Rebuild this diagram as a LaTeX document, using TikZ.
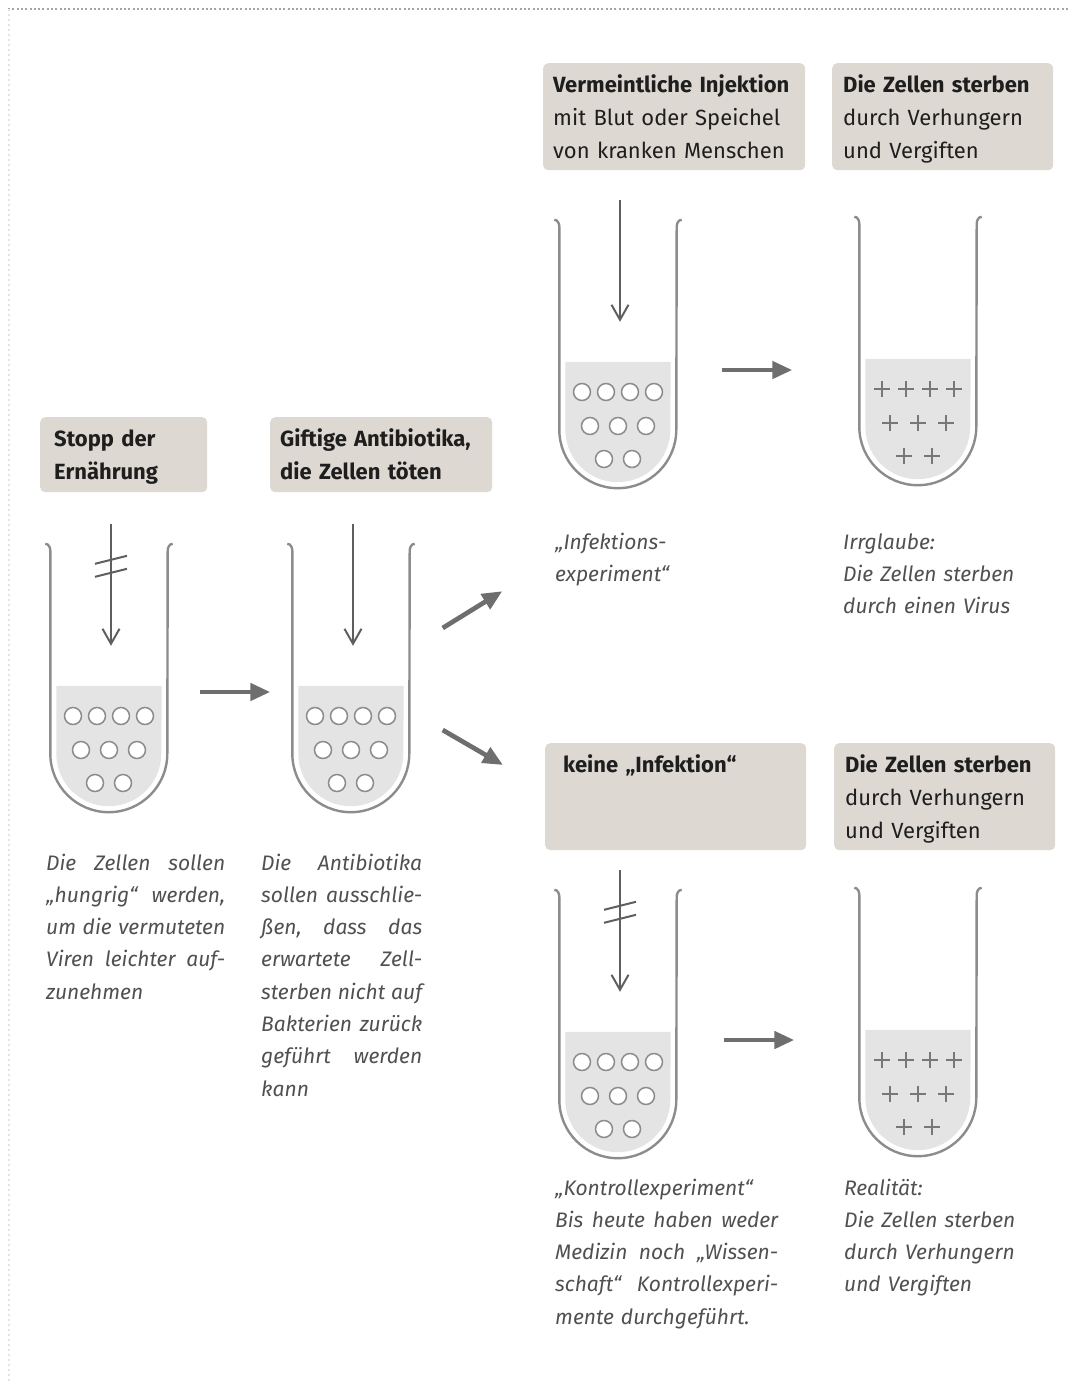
\documentclass[tikz,border=0pt]{standalone}
\usepackage{fontspec}
\setmainfont{Fira Sans}
\usetikzlibrary{arrows.meta,calc}
\definecolor{kasten}{RGB}{221,216,210}
\definecolor{glas}{RGB}{140,140,140}
\definecolor{fluessig}{RGB}{228,228,228}
\definecolor{pfeil}{RGB}{110,110,110}
\definecolor{dunkel}{RGB}{95,95,95}
\definecolor{schrift}{RGB}{30,30,30}
\definecolor{notiz}{RGB}{80,80,80}
\definecolor{rahmen}{RGB}{165,165,165}
%% Blocksatzzeile
\newlength{\spalte}
\newcommand{\jz}[1]{\makebox[\spalte][s]{#1}\\}

\begin{document}
\begin{tikzpicture}[x=1pt,y=1pt,
	kastenbox/.style={fill=kasten,rounded corners=5pt,anchor=north west,inner ysep=0pt,inner xsep=#1,
		align=left,text=schrift,font=\fontsize{22}{33}\selectfont,text height=29pt},
	kastenbox/.default=10pt,
	notiz/.style={anchor=base west,inner sep=0pt,align=left,text=notiz,
		font=\fontsize{21}{32.3}\selectfont\itshape},
	roehre/.style={minimum width=117pt,minimum height=268pt,inner sep=0pt},
	zelle/.style={glas,fill=white,line width=1.5pt},
	tot/.style={glas!85!black,line width=2.5pt},
	zufuhr/.style={dunkel,line width=2pt,-{Straight Barb[length=15pt,width=17pt]}},
	weiter/.style={pfeil,line width=4.7pt,-{Triangle[length=20pt,width=17pt]}}]
	\useasboundingbox (0,0) rectangle (1071,-1382);
	%% Rahmen
	\draw[rahmen,line width=2pt,dash pattern=on 2pt off 2.3pt] (8,-9) -- (1068,-9);
	\draw[rahmen!30,line width=1.5pt,dash pattern=on 2pt off 3pt] (9,-9) -- (9,-1382);

	%% Kaesten
	\node[kastenbox=14pt,text width=139pt,text depth=46pt] (stopp) at (40,-417)
		{\textbf{Stopp der}\\\textbf{Ernährung}};
	\node[kastenbox,text width=202pt,text depth=46pt] (gift) at (270,-417)
		{\textbf{Giftige Antibiotika,}\\\textbf{die Zellen töten}};
	\node[kastenbox,text width=242pt,text depth=78pt] (inj) at (543,-63)
		{\textbf{Vermeintliche Injektion}\\mit Blut oder Speichel\\von kranken Menschen};
	\node[kastenbox=11pt,text width=199pt,text depth=78pt] (tod1) at (832,-63)
		{\textbf{Die Zellen sterben}\\durch Verhungern\\und Vergiften};
	\node[kastenbox=18pt,text width=225pt,text depth=78pt] (keine) at (545,-743)
		{\textbf{keine „Infektion“}};
	\node[kastenbox=11pt,text width=199pt,text depth=78pt] (tod2) at (834,-743)
		{\textbf{Die Zellen sterben}\\durch Verhungern\\und Vergiften};

	%% Reagenzglaeser
	\foreach \n/\x/\y in {t1/109/-678,t2/351/-678,t3/618/-354,t4/918/-351,t5/618/-1024,t6/918/-1022}{
		\node[roehre] (\n) at (\x,\y) {};
		\fill[fluessig] ($(\n.north west)+(6,-142)$) -- ($(\n.south west)+(6,58.5)$)
			arc[start angle=180,end angle=360,radius=52.5] -- ($(\n.north east)+(-6,-142)$) -- cycle;
		\draw[glas,line width=2.4pt] ($(\n.north west)+(-5,0)$) to[out=0,in=90] ($(\n.north west)+(0,-7)$)
			-- ($(\n.south west)+(0,58.5)$) arc[start angle=180,end angle=360,radius=58.5]
			-- ($(\n.north east)+(0,-7)$) to[out=90,in=180] ($(\n.north east)+(5,0)$);
	}
	%% lebende Zellen
	\foreach \n in {t1,t2,t3,t5}
	\foreach \dx/\dy in {-36/-38,-12/-38,12/-38,36/-38,-28/-72,0/-72,28/-72,-14/-105,14/-105}
	\draw[zelle] ($(\n)+(\dx,\dy)$) circle[radius=8.5];
	%% tote Zellen
	\foreach \n in {t4,t6}
	\foreach \dx/\dy in {-36/-38,-12/-38,12/-38,36/-38,-28/-72,0/-72,28/-72,-14/-105,14/-105}
	\draw[tot] ($(\n)+(\dx-8,\dy)$) -- ++(16,0) ($(\n)+(\dx,\dy-8)$) -- ++(0,16);

	%% Zugabe von oben
	\foreach \n in {t1,t2,t3,t5}
	\draw[zufuhr] ($(\n.north)+(2,20)$) -- ($(\n.north)+(2,-102)$);
	%% unterbrochen
	\foreach \n in {t1,t5}
	\foreach \d in {-16,-29}
	\draw[dunkel,line width=2pt] ($(\n.north)+(-14,\d-4)$) -- ($(\n.north)+(18,\d+4)$);

	%% Ablauf
	\draw[weiter] ($(t1.east)+(32,-14)$) -- ($(t2.west)+(-22,-14)$);
	\draw[weiter] ($(t2.east)+(33,50)$) -- ($(t3.south west)+(-57,-103)$);
	\draw[weiter] ($(t2.east)+(33,-52)$) -- ($(keine.north west)+(-42,-22)$);
	\draw[weiter] ($(t3.east)+(45,-16)$) -- ($(t4.west)+(-67,-19)$);
	\draw[weiter] ($(t5.east)+(47,-16)$) -- ($(t6.west)+(-65,-18)$);

	%% Erlaeuterungen
	\node[notiz,text width=179pt] (hunger) at (46,-870)
		{\setlength{\spalte}{179pt}\jz{Die\hfill Zellen\hfill sollen}\jz{„hungrig“\hfill werden,}%
		\jz{um\hfill die\hfill vermuteten}\jz{Viren\hfill leichter\hfill auf-}zunehmen};
	\node[notiz,text width=161pt] (anti) at (261,-870)
		{\setlength{\spalte}{161pt}\jz{Die\hfill Antibiotika}\jz{sollen\hfill ausschlie-}\jz{ßen,\hfill dass\hfill das}%
		\jz{erwartete\hfill Zell-}\jz{sterben\hfill nicht\hfill auf}\jz{Bakterien\hfill zurück}\jz{geführt\hfill werden}kann};
	\node[notiz,text width=200pt] (infekt) at (555,-549) {„Infektions-\\experiment“};
	\node[notiz,text width=210pt] (irr) at (843,-549) {Irrglaube:\\Die Zellen sterben\\durch einen Virus};
	\node[notiz,text width=223pt] (kontroll) at (555,-1195)
		{\setlength{\spalte}{223pt}„Kontrollexperiment“\\\jz{Bis\hfill heute\hfill haben\hfill weder}%
		\jz{Medizin\hfill noch\hfill „Wissen-}\jz{schaft“\hfill Kontrollexperi-}mente durchgeführt.};
	\node[notiz,text width=210pt] (real) at (844,-1195) {Realität:\\Die Zellen sterben\\durch Verhungern\\und Vergiften};
\end{tikzpicture}
\end{document}
